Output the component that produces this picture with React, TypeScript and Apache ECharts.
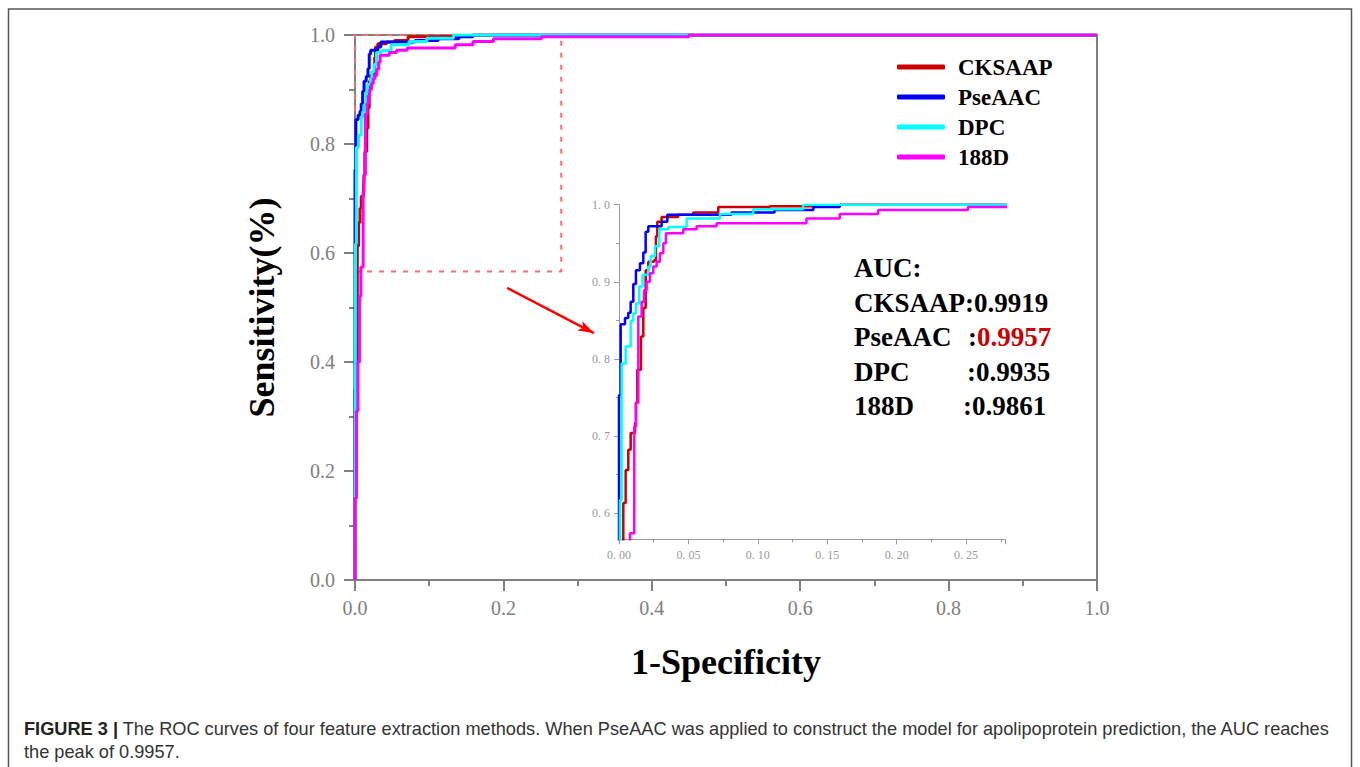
import React, { useEffect, useRef } from 'react';
import * as echarts from 'echarts';

// ---- data ----
const seriesNames = ['CKSAAP', 'PseAAC', 'DPC', '188D'];

const ckX = [0, 0, 0.002, 0.0031, 0.0048, 0.0067, 0.0084, 0.0115, 0.0122, 0.0132, 0.0158, 0.0175, 0.0192, 0.0211, 0.0252, 0.0266, 0.0276, 0.0307, 0.0427, 0.0535, 0.0715, 0.1086, 0.159, 1.0];
const ckY = [0, 0.35, 0.52, 0.613, 0.656, 0.682, 0.704, 0.717, 0.743, 0.786, 0.829, 0.866, 0.915, 0.926, 0.928, 0.959, 0.978, 0.984, 0.987, 0.99, 0.997, 0.998, 1.0, 1.0];

const pseX = [0, 0, 0.0012, 0.0043, 0.0067, 0.0084, 0.0103, 0.0122, 0.0151, 0.0175, 0.0192, 0.0211, 0.0307, 0.0348, 0.081, 0.112, 0.14, 0.159, 1.0];
const pseY = [0, 0.753, 0.845, 0.853, 0.86, 0.874, 0.897, 0.915, 0.924, 0.938, 0.965, 0.972, 0.978, 0.987, 0.99, 0.993, 0.997, 1.0, 1.0];

const dpcX = [0, 0.0007, 0.0019, 0.0048, 0.0084, 0.0103, 0.0122, 0.0146, 0.017, 0.0211, 0.0228, 0.0259, 0.029, 0.0355, 0.0487, 0.0727, 0.0966, 0.1326, 1.0];
const dpcY = [0, 0.617, 0.794, 0.816, 0.849, 0.859, 0.872, 0.894, 0.909, 0.92, 0.933, 0.946, 0.968, 0.971, 0.982, 0.988, 0.994, 1.0, 1.0];

const d188X = [0, 0, 0.002, 0.004, 0.006, 0.0079, 0.011, 0.0122, 0.0139, 0.0163, 0.018, 0.0199, 0.0223, 0.0247, 0.0271, 0.0295, 0.0319, 0.0338, 0.0463, 0.0559, 0.0703, 0.135, 0.159, 0.1866, 0.2513, 0.45, 1.0];
const d188Y = [0, 0.15, 0.31, 0.4, 0.52, 0.574, 0.712, 0.743, 0.855, 0.874, 0.889, 0.9, 0.911, 0.92, 0.926, 0.937, 0.95, 0.963, 0.968, 0.972, 0.976, 0.982, 0.988, 0.993, 0.997, 1.0, 1.0];

const aucLabels = ['CKSAAP', 'PseAAC', 'DPC', '188D'];
const aucValues = ['0.9919', '0.9957', '0.9935', '0.9861'];

const zoomXRange = [0, 0.278];
const zoomYRange = [0.566, 1.0];
const insetYMajor = [0.6, 0.7, 0.8, 0.9, 1.0];
const insetYMinor = [0.65, 0.75, 0.85, 0.95];
const arrowFrom = [0.205, 0.536];
const arrowTo = [0.322, 0.453];

const captionBold = 'FIGURE 3 |';
const captionLine1 = ' The ROC curves of four feature extraction methods. When PseAAC was applied to construct the model for apolipoprotein prediction, the AUC reaches';
const captionLine2 = 'the peak of 0.9957.';

// ---- styles ----
const colors = ['#cc0000', '#0000ff', '#00ffff', '#ff00ff'];
const SERIF = '"Liberation Serif", "Times New Roman", serif';
const SANS = '"Liberation Sans", Arial, sans-serif';
const GRAY = '#808080';
const INSET_GRAY = '#9a9a9a';

const zip = (xs: number[], ys: number[]) => xs.map((x, i) => [x, ys[i]]);

export default function App() {
  const ref = useRef<HTMLDivElement>(null);

  useEffect(() => {
    if (!ref.current) return;
    const chart = echarts.init(ref.current, null, { renderer: 'svg' });
    const allData = [zip(ckX, ckY), zip(pseX, pseY), zip(dpcX, dpcY), zip(d188X, d188Y)];

    const rectData = [
      [zoomXRange[0], zoomYRange[0]],
      [zoomXRange[1], zoomYRange[0]],
      [zoomXRange[1], zoomYRange[1]],
      [zoomXRange[0], zoomYRange[1]],
      [zoomXRange[0], zoomYRange[0]],
    ];

    const mainSeries = seriesNames.map((n, i) => ({
      name: n,
      type: 'line',
      step: 'end',
      xAxisIndex: 0,
      yAxisIndex: 0,
      data: allData[i],
      symbol: 'none',
      color: colors[i],
      lineStyle: { color: colors[i], width: 3 },
      z: 3,
      silent: true,
    }));
    const insetSeries = seriesNames.map((n, i) => ({
      name: n,
      type: 'line',
      step: 'end',
      xAxisIndex: 1,
      yAxisIndex: 1,
      data: allData[i],
      symbol: 'none',
      color: colors[i],
      lineStyle: { color: colors[i], width: 2.5 },
      clip: true,
      z: 3,
      silent: true,
    }));

    const aucY0 = 268;
    const aucStep = 34.5;
    const aucFont = 'bold 27px ' + SERIF;
    const colonX = [0, 968, 967, 963];
    const graphics: any[] = [
      {
        type: 'rect',
        shape: { x: 8.5, y: 9, width: 1343, height: 800 },
        style: { fill: 'none', stroke: '#555', lineWidth: 1.5 },
        silent: true,
      },
      {
        type: 'text', x: 854, y: aucY0,
        style: { text: 'AUC:', font: aucFont, fill: '#000', textVerticalAlign: 'middle', verticalAlign: 'middle' },
      },
    ];
    aucLabels.forEach((lab, i) => {
      const y = aucY0 + aucStep * (i + 1);
      if (i === 0) {
        graphics.push({
          type: 'text', x: 854, y,
          style: { text: lab + ':' + aucValues[i], font: aucFont, fill: '#000', textVerticalAlign: 'middle', verticalAlign: 'middle' },
        });
      } else {
        graphics.push({
          type: 'text', x: 854, y,
          style: { text: lab, font: aucFont, fill: '#000', textVerticalAlign: 'middle', verticalAlign: 'middle' },
        });
        graphics.push({
          type: 'text', x: colonX[i], y,
          style: { text: ':', font: aucFont, fill: '#000', textVerticalAlign: 'middle', verticalAlign: 'middle' },
        });
        graphics.push({
          type: 'text', x: colonX[i] + 9, y,
          style: { text: aucValues[i], font: aucFont, fill: i === 1 ? '#cc0000' : '#000', textVerticalAlign: 'middle', verticalAlign: 'middle' },
        });
      }
    });
    graphics.push({
      type: 'text', x: 24, y: 729,
      style: {
        text: '{b|' + captionBold + '}{r|' + captionLine1 + '}',
        textVerticalAlign: 'middle', verticalAlign: 'middle',
        rich: {
          b: { font: 'bold 18.2px ' + SANS, fill: '#222' },
          r: { font: '18.2px ' + SANS, fill: '#333' },
        },
      },
    });
    graphics.push({
      type: 'text', x: 24, y: 752,
      style: { text: captionLine2, font: '18.2px ' + SANS, fill: '#333', textVerticalAlign: 'middle', verticalAlign: 'middle' },
    });

    const option: any = {
      animation: false,
      backgroundColor: '#fff',
      grid: [
        { left: 355, top: 35, width: 742, height: 545, show: true, borderColor: GRAY, borderWidth: 2, backgroundColor: 'transparent' },
        { left: 619, top: 204.7, width: 386, height: 334.6 },
      ],
      legend: {
        data: seriesNames,
        orient: 'vertical',
        left: 897,
        top: 52,
        padding: 0,
        icon: 'roundRect',
        itemWidth: 48,
        itemHeight: 5,
        itemGap: 0,
        selectedMode: false,
        itemStyle: { borderWidth: 0 },
        textStyle: { fontFamily: SERIF, fontWeight: 'bold', fontSize: 23, color: '#000', lineHeight: 30, padding: [0, 0, 0, 8] },
      },
      xAxis: [
        {
          type: 'value', gridIndex: 0, min: 0, max: 1, interval: 0.2,
          axisLine: { onZero: false, lineStyle: { color: GRAY, width: 2 } },
          axisTick: { length: 11, lineStyle: { color: GRAY, width: 2 } },
          minorTick: { show: true, splitNumber: 2, length: 6, lineStyle: { color: GRAY, width: 2 } },
          splitLine: { show: false },
          axisLabel: { formatter: (v: number) => v.toFixed(1), color: GRAY, fontFamily: SERIF, fontSize: 20, margin: 18 },
          name: '1-Specificity', nameLocation: 'middle', nameGap: 64,
          nameTextStyle: { fontFamily: SERIF, fontWeight: 'bold', fontSize: 36, color: '#000' },
        },
        {
          type: 'value', gridIndex: 1, min: zoomXRange[0], max: zoomXRange[1], interval: 0.05,
          axisLine: { onZero: false, lineStyle: { color: INSET_GRAY, width: 1 } },
          axisTick: { length: 5, lineStyle: { color: INSET_GRAY, width: 1 } },
          minorTick: { show: true, splitNumber: 2, length: 3, lineStyle: { color: INSET_GRAY, width: 1 } },
          splitLine: { show: false },
          axisLabel: { formatter: (v: number) => v.toFixed(2).replace('.', '. '), color: INSET_GRAY, fontFamily: SERIF, fontSize: 12, margin: 10, showMaxLabel: false },
        },
      ],
      yAxis: [
        {
          type: 'value', gridIndex: 0, min: 0, max: 1, interval: 0.2,
          axisLine: { onZero: false, lineStyle: { color: GRAY, width: 2 } },
          axisTick: { length: 11, lineStyle: { color: GRAY, width: 2 } },
          minorTick: { show: true, splitNumber: 2, length: 6, lineStyle: { color: GRAY, width: 2 } },
          splitLine: { show: false },
          axisLabel: { formatter: (v: number) => v.toFixed(1), color: GRAY, fontFamily: SERIF, fontSize: 20, margin: 20 },
          name: 'Sensitivity(%)', nameLocation: 'middle', nameGap: 75, nameRotate: 90,
          nameTextStyle: { fontFamily: SERIF, fontWeight: 'bold', fontSize: 36, color: '#000' },
        },
        {
          type: 'value', gridIndex: 1, min: zoomYRange[0], max: zoomYRange[1], position: 'left',
          axisLine: { onZero: false, lineStyle: { color: INSET_GRAY, width: 1 } },
          axisTick: { length: 5, customValues: insetYMajor, lineStyle: { color: INSET_GRAY, width: 1 } },
          splitLine: { show: false },
          axisLabel: { customValues: insetYMajor, formatter: (v: number) => v.toFixed(1).replace('.', '. '), color: INSET_GRAY, fontFamily: SERIF, fontSize: 12, margin: 9 },
        },
        {
          type: 'value', gridIndex: 1, min: zoomYRange[0], max: zoomYRange[1], position: 'left', offset: 0,
          axisLine: { show: false },
          axisTick: { length: 3, customValues: insetYMinor, lineStyle: { color: INSET_GRAY, width: 1 } },
          splitLine: { show: false },
          axisLabel: { show: false },
        },
      ],
      series: [
        {
          name: 'zoom-box',
          type: 'line',
          xAxisIndex: 0,
          yAxisIndex: 0,
          data: rectData,
          symbol: 'none',
          silent: true,
          z: 2,
          lineStyle: { color: '#ff6a6a', width: 2, type: [5, 7] },
          markLine: {
            silent: true,
            symbol: ['none', 'arrow'],
            symbolSize: [8, 16],
            label: { show: false },
            lineStyle: { color: '#ff0000', width: 2.5, type: 'solid' },
            emphasis: { disabled: true },
            data: [[{ coord: arrowFrom }, { coord: arrowTo }]],
          },
        },
        ...mainSeries,
        ...insetSeries,
      ],
      graphic: graphics,
    };

    chart.setOption(option);
    return () => chart.dispose();
  }, []);

  return (
    <div
      ref={ref}
      style={{ position: 'fixed', left: 0, top: 0, width: 1360, height: 767, background: '#fff' }}
    />
  );
}
